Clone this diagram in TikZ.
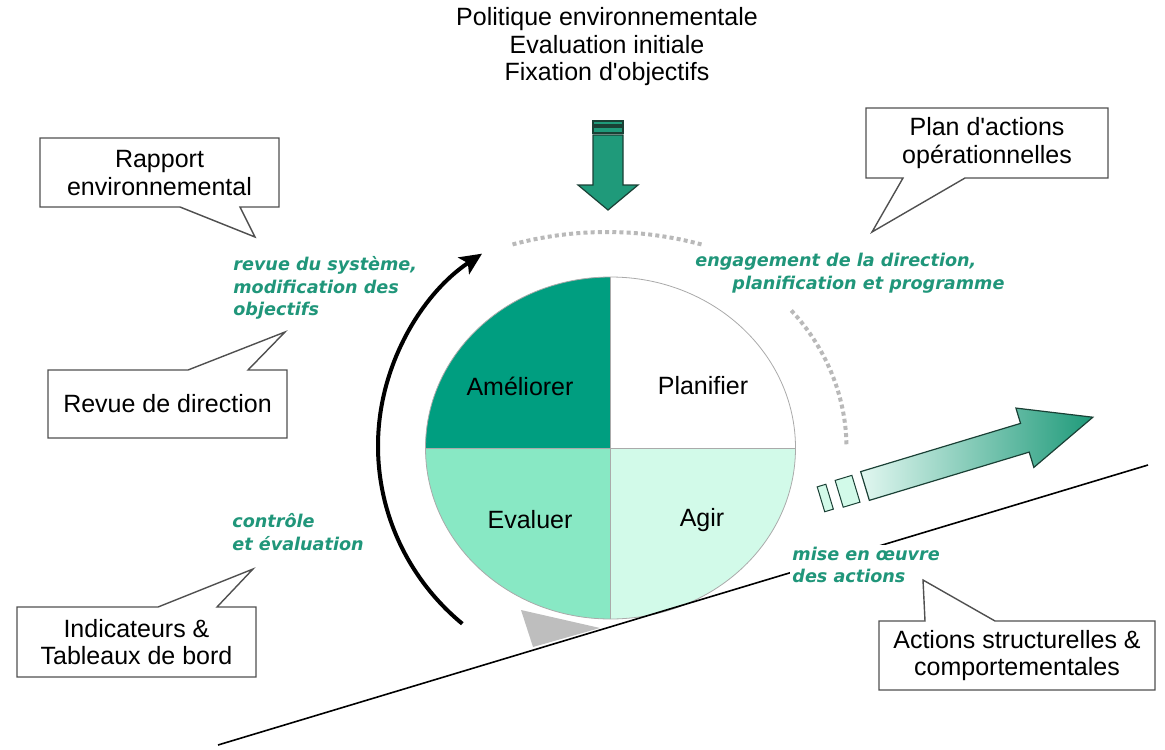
\documentclass[tikz,border=0pt]{standalone}
\usepackage{fontspec}
\setmainfont{Liberation Sans}
\newfontfamily\gfont{DejaVu Sans}
\usetikzlibrary{arrows.meta}
\definecolor{qdark}{RGB}{0,158,128}
\definecolor{qmid}{RGB}{136,232,196}
\definecolor{qlight}{RGB}{210,250,233}
\definecolor{gtext}{RGB}{32,150,122}
\definecolor{agreen}{RGB}{31,154,122}
\definecolor{aedge}{RGB}{26,64,53}
\definecolor{alight}{RGB}{225,247,240}
\definecolor{calloutgray}{RGB}{80,80,80}
\definecolor{circgray}{RGB}{170,170,170}
\definecolor{dotgray}{RGB}{185,185,185}
\definecolor{wedgegray}{RGB}{190,190,190}
\begin{document}
\begin{tikzpicture}[x=0.5pt,y=-0.5pt,
  txt/.style={font=\fontsize{12.5}{13.75}\selectfont, align=center, inner sep=0pt},
  gtxt/.style={font=\gfont\bfseries\itshape\fontsize{8.8}{11.4}\selectfont, text=gtext, align=left, inner sep=1pt},
  callout/.style={draw=calloutgray, line width=0.7pt, fill=white, line join=miter},
  quad/.style={draw=circgray, line width=0.4pt},
  dots/.style={draw=dotgray, line width=2pt, dash pattern=on 2pt off 1.6pt},
  greenarrow/.style={fill=agreen, draw=aedge, line width=0.6pt, line join=miter},
  stub/.style={fill=qlight, draw=aedge, line width=0.5pt},
]
\useasboundingbox (0,0) rectangle (1165,749);

% top text
\node[txt] (top) at (607,47) {Politique environnementale\\Evaluation initiale\\Fixation d\textquotesingle objectifs};

% top arrow
\path[greenarrow] (593,121) rectangle (623,125);
\path[greenarrow] (593,127) rectangle (623,133);
\path[greenarrow] (593,135) -- (623,135) -- (623,185) -- (638,185) -- (608,210) -- (578,185) -- (593,185) -- cycle;

% dotted arcs
\draw[dots] ([shift={(607,597)}]255:365) arc[start angle=255, end angle=285, radius=365];
\draw[dots] ([shift={(610.5,448)}]320:236 and 214) arc[start angle=320, end angle=359, x radius=236, y radius=214];

% circle quadrants
\coordinate (C) at (610.5,448);
\path[fill=qdark] (C) -- ([shift={(610.5,448)}]180:185 and 171) arc[start angle=180, end angle=270, x radius=185, y radius=171] -- cycle;
\path[fill=white] (C) -- ([shift={(610.5,448)}]270:185 and 171) arc[start angle=270, end angle=360, x radius=185, y radius=171] -- cycle;
\path[fill=qlight] (C) -- ([shift={(610.5,448)}]0:185 and 171) arc[start angle=0, end angle=90, x radius=185, y radius=171] -- cycle;
\path[fill=qmid] (C) -- ([shift={(610.5,448)}]90:185 and 171) arc[start angle=90, end angle=180, x radius=185, y radius=171] -- cycle;
\draw[quad] (C) ellipse[x radius=185, y radius=171];
\draw[quad] (425.5,448) -- (795.5,448);
\draw[quad] (610.5,277) -- (610.5,619);

\node[txt] (ame) at (520,386) {Améliorer};
\node[txt] (pla) at (703,386) {Planifier};
\node[txt] (eva) at (530,520) {Evaluer};
\node[txt] (agi) at (702,520) {Agir};

% black cycle arrow
\draw[line width=2pt, -{Stealth[length=11pt,width=10pt,inset=2.5pt]}] ([shift={(614,446)}]130:236 and 232) arc[start angle=130, end angle=236, x radius=236, y radius=232];

% wedge
\path[fill=wedgegray] (521,610) -- (600,628) -- (533,647) -- cycle;

% long slope line
\coordinate (l1) at (218,745);
\coordinate (l2) at (1148,465);
\draw[line width=0.8pt] (l1) -- (l2);

% right arrow
\begin{scope}[shift={(865,486)}, rotate=16.8]
  \path[stub] (-46,-13) rectangle (-37,13);
  \path[stub] (-27,-14) rectangle (-9.5,14);
  \path[left color=alight, right color=agreen, draw=aedge, line width=0.6pt, line join=miter]
    (0,-15) -- (167,-15) -- (167,-31) -- (238,0) -- (167,31) -- (167,15) -- (0,15) -- cycle;
\end{scope}

% green labels
\node[gtxt, anchor=west] (rev) at (231,288) {revue du système,\\modification des\\objectifs};
\node[gtxt, anchor=west] (eng) at (693,273.5) {engagement de la direction,\\\hspace*{18.5pt}planification et programme};
\node[gtxt, anchor=west] (con) at (230,532) {contrôle\\et évaluation};
\node[gtxt, anchor=west, fill=white] (mis) at (790,565) {mise en œuvre\\des actions};

% callouts
\draw[callout] (40,138) -- (279,138) -- (279,207) -- (240,207) -- (255,237) -- (180,207) -- (40,207) -- cycle;
\node[txt] (rap) at (159.5,173) {Rapport\\environnemental};

\draw[callout] (866,108) -- (1108,108) -- (1108,178) -- (965,178) -- (872,232) -- (903,178) -- (866,178) -- cycle;
\node[txt] (plan) at (987,143) {Plan d\textquotesingle actions\\opérationnelles};

\draw[callout] (48,370) -- (188,370) -- (285,332) -- (248,370) -- (287,370) -- (287,438) -- (48,438) -- cycle;
\node[txt] (revd) at (167.5,404) {Revue de direction};

\draw[callout] (17,607) -- (158,607) -- (253,569) -- (217,607) -- (256,607) -- (256,677) -- (17,677) -- cycle;
\node[txt] (ind) at (136.5,642) {Indicateurs \&\\Tableaux de bord};

\draw[callout] (879,621) -- (925,621) -- (923,580) -- (995,621) -- (1155,621) -- (1155,690) -- (879,690) -- cycle;
\node[txt] (act) at (1017,655.5) {Actions structurelles \&\\comportementales};
\end{tikzpicture}
\end{document}
